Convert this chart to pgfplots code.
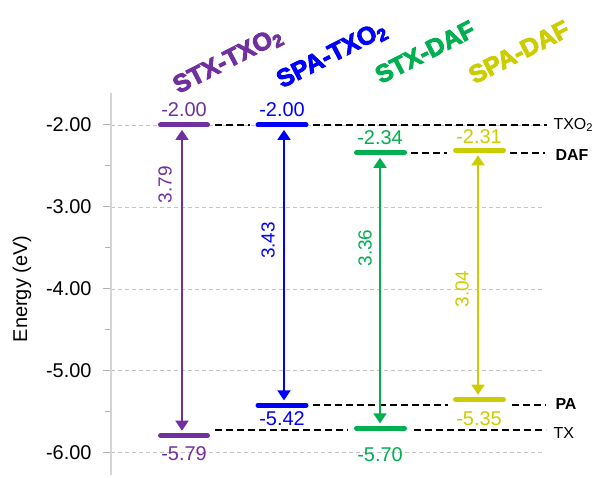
\documentclass[border=0pt]{standalone}
\usepackage{pgfplots}
\pgfplotsset{compat=1.18}
\usepackage{fontspec}
\setmainfont{Liberation Sans}
\usetikzlibrary{arrows.meta}
\definecolor{cpurple}{HTML}{7030A0}
\definecolor{cblue}{HTML}{0000FF}
\definecolor{cgreen}{HTML}{00B050}
\definecolor{cyellow}{HTML}{CCCC00}
\definecolor{gridgray}{HTML}{C4C4C4}
\definecolor{axgray}{HTML}{D4D4D4}
\newcommand{\heavy}[1]{\special{pdf:literal direct 2 Tr 0.9 w}#1\special{pdf:literal direct 0 Tr}}
\begin{document}
\begin{tikzpicture}
\useasboundingbox (-111bp,-3bp) rectangle (483bp,475bp);
\begin{axis}[
 at={(0,0)}, anchor=south west,
 scale only axis, width=432bp, height=382bp,
 xmin=111, xmax=543, ymin=-6.27, ymax=-1.61,
 axis x line=none, axis y line=left,
 y axis line style={-, draw=axgray, line width=1.5bp},
 ytick={-6,-5,-4,-3,-2}, yticklabels={-6.00,-5.00,-4.00,-3.00,-2.00},
 minor ytick={-5.5,-4.5,-3.5,-2.5},
 tick align=outside, major tick length=8bp, minor tick length=6bp,
 every tick/.style={draw=gray!60, line width=1bp},
 ymajorgrids, major grid style={draw=gridgray, dash pattern=on 4bp off 3bp, line width=0.8bp},
 yticklabel style={font=\fontsize{20}{24}\selectfont, text=black, xshift=-8bp},
 ylabel={Energy (eV)},
 every axis y label/.style={at={(rel axis cs:0,0.487)}, xshift=-89bp, rotate=90, anchor=center, font=\fontsize{20}{24}\selectfont},
 clip=false,
]
% dashed reference lines
\addplot[black, line width=2.2bp, dash pattern=on 7bp off 4bp] coordinates {(215,-2.00) (250,-2.00)};
\addplot[black, line width=2.2bp, dash pattern=on 7bp off 4bp] coordinates {(313,-2.00) (547,-2.00)};
\addplot[black, line width=2.2bp, dash pattern=on 7bp off 4bp] coordinates {(411,-2.34) (447,-2.34)};
\addplot[black, line width=2.2bp, dash pattern=on 7bp off 4bp] coordinates {(510,-2.34) (545,-2.34)};
\addplot[black, line width=2.2bp, dash pattern=on 7bp off 4bp] coordinates {(313,-5.42) (448,-5.42)};
\addplot[black, line width=2.2bp, dash pattern=on 7bp off 4bp] coordinates {(512,-5.42) (546,-5.42)};
\addplot[black, line width=2.2bp, dash pattern=on 7bp off 4bp] coordinates {(215,-5.72) (348,-5.72)};
\addplot[black, line width=2.2bp, dash pattern=on 7bp off 4bp] coordinates {(414,-5.72) (546,-5.72)};
% energy level bars
\addplot[cpurple, line width=5bp, line cap=round] coordinates {(160.5,-2.00) (207.5,-2.00)};
\addplot[cpurple, line width=5bp, line cap=round] coordinates {(160.5,-5.79) (207.5,-5.79)};
\addplot[cblue, line width=5bp, line cap=round] coordinates {(258,-2.00) (306,-2.00)};
\addplot[cblue, line width=5bp, line cap=round] coordinates {(258,-5.42) (306,-5.42)};
\addplot[cgreen, line width=5bp, line cap=round] coordinates {(356.5,-2.34) (404.5,-2.34)};
\addplot[cgreen, line width=5bp, line cap=round] coordinates {(356.5,-5.70) (404.5,-5.70)};
\addplot[cyellow, line width=5bp, line cap=round] coordinates {(455.5,-2.31) (503.5,-2.31)};
\addplot[cyellow, line width=5bp, line cap=round] coordinates {(455.5,-5.35) (503.5,-5.35)};
% gap arrows
\addplot[cpurple, line width=1.8bp, arrows={Triangle[width=13bp,length=10bp]-Triangle[width=13bp,length=10bp]}] coordinates {(182,-2.06) (182,-5.73)};
\addplot[cblue, line width=1.8bp, arrows={Triangle[width=13bp,length=10bp]-Triangle[width=13bp,length=10bp]}] coordinates {(284,-2.06) (284,-5.36)};
\addplot[cgreen, line width=1.8bp, arrows={Triangle[width=13bp,length=10bp]-Triangle[width=13bp,length=10bp]}] coordinates {(380,-2.40) (380,-5.64)};
\addplot[cyellow, line width=1.8bp, arrows={Triangle[width=13bp,length=10bp]-Triangle[width=13bp,length=10bp]}] coordinates {(478,-2.37) (478,-5.29)};
% gap labels
\node[cpurple, rotate=90, font=\fontsize{19}{22}\selectfont] at (axis cs:165,-2.73) {3.79};
\node[cblue, rotate=90, font=\fontsize{19}{22}\selectfont] at (axis cs:268,-3.41) {3.43};
\node[cgreen, rotate=90, font=\fontsize{19}{22}\selectfont] at (axis cs:365,-3.50) {3.36};
\node[cyellow, rotate=90, font=\fontsize{19}{22}\selectfont] at (axis cs:462,-4.00) {3.04};
% value labels
\node[cpurple, font=\fontsize{20}{24}\selectfont] at (axis cs:184,-1.81) {-2.00};
\node[cpurple, font=\fontsize{20}{24}\selectfont] at (axis cs:184,-6.01) {-5.79};
\node[cblue, font=\fontsize{20}{24}\selectfont] at (axis cs:282,-1.81) {-2.00};
\node[cblue, font=\fontsize{20}{24}\selectfont] at (axis cs:282,-5.585) {-5.42};
\node[cgreen, font=\fontsize{20}{24}\selectfont] at (axis cs:380,-2.15) {-2.34};
\node[cgreen, font=\fontsize{20}{24}\selectfont] at (axis cs:380,-6.02) {-5.70};
\node[cyellow, font=\fontsize{20}{24}\selectfont] at (axis cs:479,-2.14) {-2.31};
\node[cyellow, font=\fontsize{20}{24}\selectfont] at (axis cs:479,-5.58) {-5.35};
% right labels
\node[anchor=west, font=\fontsize{16}{19}\selectfont] at (axis cs:550,-2.00) {TXO\textsubscript{2}};
\node[anchor=west, font=\bfseries\fontsize{16}{19}\selectfont] at (axis cs:552,-2.37) {DAF};
\node[anchor=west, font=\bfseries\fontsize{16}{19}\selectfont] at (axis cs:552,-5.41) {PA};
\node[anchor=west, font=\fontsize{16}{19}\selectfont] at (axis cs:550,-5.76) {TX};
% top titles
\node[cpurple, rotate=27, font=\bfseries\fontsize{25}{29}\selectfont] at (axis cs:228,-1.22) {\heavy{STX-TXO\textsubscript{2}}};
\node[cblue, rotate=27, font=\bfseries\fontsize{25}{29}\selectfont] at (axis cs:332,-1.15) {\heavy{SPA-TXO\textsubscript{2}}};
\node[cgreen, rotate=27, font=\bfseries\fontsize{25}{29}\selectfont] at (axis cs:425,-1.11) {\heavy{STX-DAF}};
\node[cyellow, rotate=27, font=\bfseries\fontsize{25}{29}\selectfont] at (axis cs:519,-1.11) {\heavy{SPA-DAF}};
\end{axis}
\end{tikzpicture}
\end{document}
